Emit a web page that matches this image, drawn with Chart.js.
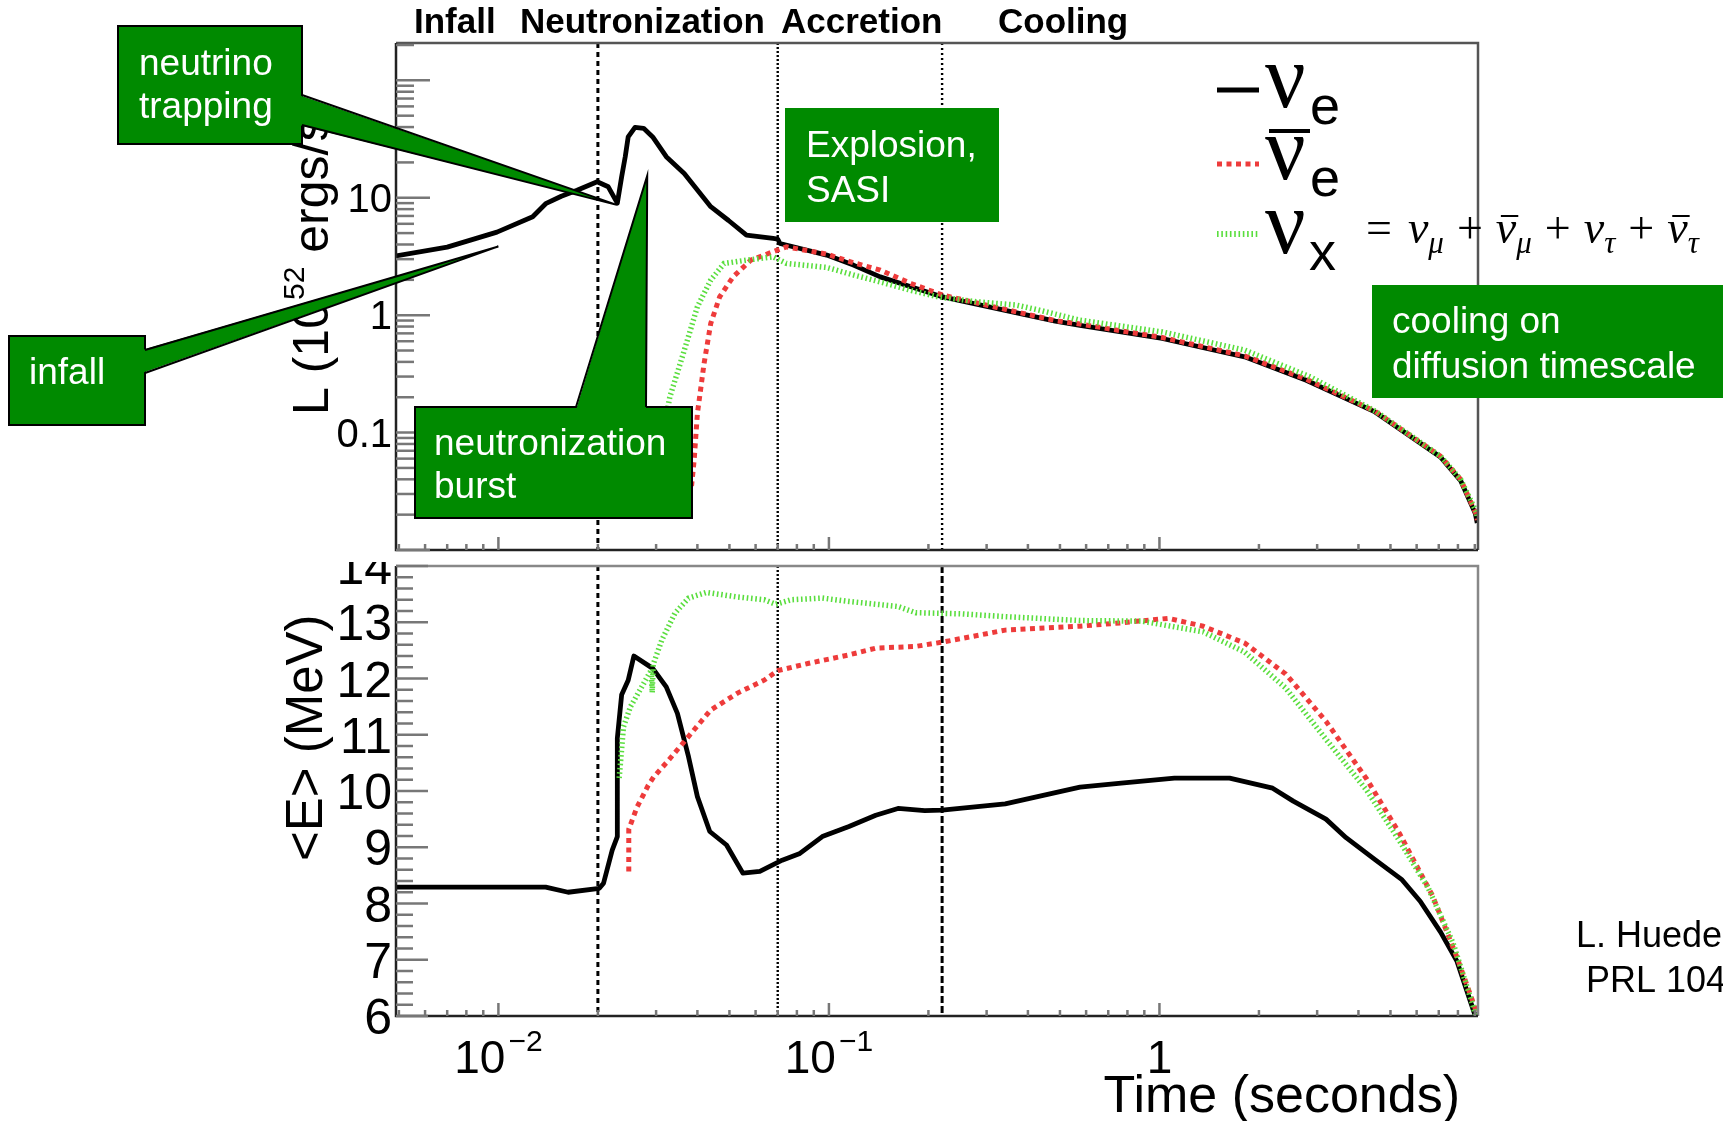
<!DOCTYPE html>
<html>
<head>
<meta charset="utf-8">
<script src="https://cdn.jsdelivr.net/npm/chart.js@4.4.0/dist/chart.umd.min.js"></script>
<style>
  html, body { margin: 0; padding: 0; background: #fff; }
  body { width: 1723px; height: 1121px; position: relative; overflow: hidden; }
  canvas { position: absolute; left: 0; }
  #lum { top: 0; }
  #ene { top: 562px; }
</style>
</head>
<body>
<canvas id="lum" width="1723" height="560"></canvas>
<canvas id="ene" width="1723" height="559"></canvas>
<script>
// time axis (seconds), phase boundaries
const tRange = [0.0049, 9.2];
const phaseBounds = [0.02, 0.07, 0.22];
const phaseNames = ['Infall', 'Neutronization', 'Accretion', 'Cooling'];

// luminosity panel, 10^52 erg/s
const lumRange = [0.01, 208];
const lumLabels = [0.1, 1, 10];
const tLumE = [0.0049, 0.0070, 0.0099, 0.0127, 0.0139, 0.0155, 0.0173, 0.0199, 0.0215, 0.0229, 0.0236, 0.0242, 0.0247, 0.0259, 0.0275, 0.0293, 0.0322, 0.0365, 0.0439, 0.0497, 0.0563, 0.0678, 0.0700, 0.0711, 0.0985, 0.1186, 0.143, 0.178, 0.221, 0.3415, 0.484, 0.575, 1.02, 1.81, 2.78, 4.49, 7.08, 8.15, 9.03, 9.15];
const lumE = [3.2, 3.8, 5.1, 6.9, 8.9, 10.3, 11.6, 13.7, 12.4, 9.0, 15.1, 22.4, 33, 39.8, 39, 33, 22.4, 16.1, 8.4, 6.4, 4.8, 4.5, 4.45, 4.08, 3.25, 2.67, 2.12, 1.74, 1.43, 1.10, 0.89, 0.82, 0.633, 0.442, 0.279, 0.15, 0.062, 0.039, 0.0204, 0.017];
const tLumA = [0.0384, 0.0391, 0.0400, 0.0419, 0.0439, 0.0467, 0.0513, 0.058, 0.0678, 0.0744, 0.0985, 0.1186, 0.143, 0.178, 0.221, 0.3415, 0.484, 0.575, 1.02, 1.81, 2.78, 4.49, 7.08, 8.15, 9.1, 9.15];
const lumA = [0.035, 0.058, 0.145, 0.387, 0.85, 1.43, 2.12, 2.94, 3.47, 3.82, 3.31, 2.8, 2.42, 1.85, 1.48, 1.12, 0.9, 0.84, 0.645, 0.45, 0.285, 0.152, 0.063, 0.04, 0.02, 0.018];
const tLumX = [0.0315, 0.033, 0.0365, 0.040, 0.0439, 0.0482, 0.0563, 0.0678, 0.0744, 0.0985, 0.1186, 0.143, 0.178, 0.215, 0.28, 0.368, 0.435, 0.575, 1.02, 1.81, 2.86, 4.49, 7.08, 8.15, 9.1, 9.15];
const lumX = [0.1, 0.2, 0.5, 1.18, 1.99, 2.76, 2.94, 3.14, 2.76, 2.55, 2.2, 1.92, 1.62, 1.43, 1.3, 1.22, 1.1, 0.906, 0.72, 0.504, 0.298, 0.153, 0.063, 0.04, 0.021, 0.019];

// mean energy panel, MeV
const eRange = [6, 14];
const eLabels = [6, 7, 8, 9, 10, 11, 12, 13, 14];
const tEneE = [0.0049, 0.0139, 0.01625, 0.0202, 0.0208, 0.0221, 0.0229, 0.0229, 0.0236, 0.0247, 0.0257, 0.0293, 0.0322, 0.0348, 0.0376, 0.040, 0.0436, 0.049, 0.0549, 0.0618, 0.0722, 0.0817, 0.0955, 0.115, 0.1386, 0.1618, 0.195, 0.22, 0.3415, 0.575, 0.766, 1.11, 1.63, 2.2, 2.54, 3.19, 3.67, 4.49, 5.4, 6.15, 7.09, 7.95, 8.91, 9.15];
const eneE = [8.29, 8.29, 8.2, 8.27, 8.36, 8.95, 9.19, 10.94, 11.71, 11.97, 12.4, 12.18, 11.85, 11.38, 10.61, 9.9, 9.28, 9.04, 8.54, 8.57, 8.77, 8.89, 9.19, 9.37, 9.57, 9.69, 9.65, 9.66, 9.77, 10.07, 10.14, 10.23, 10.23, 10.05, 9.82, 9.5, 9.17, 8.78, 8.43, 8.04, 7.49, 6.97, 6.1, 5.9];
const tEneA = [0.0248, 0.0248, 0.0263, 0.0284, 0.0295, 0.0322, 0.0364, 0.0439, 0.0529, 0.0637, 0.070, 0.0869, 0.115, 0.1386, 0.183, 0.222, 0.3415, 0.575, 0.766, 1.065, 1.355, 1.81, 2.41, 3.19, 4.24, 5.33, 6.7, 7.95, 9.03, 9.15];
const eneA = [8.57, 9.32, 9.72, 10.1, 10.25, 10.5, 10.87, 11.44, 11.74, 11.97, 12.14, 12.27, 12.42, 12.54, 12.57, 12.65, 12.86, 12.93, 12.99, 13.07, 12.93, 12.63, 12.08, 11.24, 10.21, 9.24, 8.14, 7.04, 6.13, 5.9];
const tEneX = [0.0232, 0.0239, 0.0251, 0.0275, 0.0290, 0.0292, 0.0294, 0.0312, 0.0342, 0.0376, 0.0426, 0.0529, 0.0637, 0.069, 0.0768, 0.0955, 0.115, 0.1618, 0.183, 0.25, 0.3415, 0.575, 0.883, 1.355, 1.81, 2.41, 3.19, 4.24, 5.33, 6.51, 7.73, 8.91, 9.15];
const eneX = [10.23, 11.14, 11.5, 11.91, 12.15, 11.75, 12.25, 12.68, 13.16, 13.43, 13.53, 13.45, 13.4, 13.32, 13.4, 13.43, 13.37, 13.28, 13.17, 13.15, 13.1, 13.03, 13.02, 12.83, 12.47, 11.83, 10.92, 10.01, 9.11, 8.27, 7.3, 6.16, 5.9];

const boxGreen = '#008a00';
const tickColor = '#777';
const sans = '"Liberation Sans", Arial, sans-serif';
const serif = '"Liberation Serif", "Times New Roman", serif';

const lineE = { borderColor: '#000', borderWidth: 4.8, borderDash: [], borderJoinStyle: 'round', pointRadius: 0, order: 3 };
const lineA = { borderColor: '#ee3b3b', borderWidth: 5, borderDash: [5, 4.5], pointRadius: 0, order: 2 };
const lineX = { borderColor: '#5ade3e', borderWidth: 5.5, borderDash: [1.6, 2.7], pointRadius: 0, order: 1 };

function pts(ts, vs) {
    return ts.map((t, i) => ({ x: t, y: vs[i] }));
}

function frame(chart, topColor) {
    const { ctx, chartArea: a } = chart;
    ctx.save();
    ctx.lineWidth = 2.5;
    ctx.strokeStyle = topColor;
    ctx.beginPath();
    ctx.moveTo(a.left, a.top);
    ctx.lineTo(a.right, a.top);
    ctx.lineTo(a.right, a.bottom);
    ctx.stroke();
    ctx.strokeStyle = '#222';
    ctx.beginPath();
    ctx.moveTo(a.left, a.top);
    ctx.lineTo(a.left, a.bottom);
    ctx.lineTo(a.right, a.bottom);
    ctx.stroke();
    ctx.restore();
}

function phaseLines(chart, dashes, widths) {
    const { ctx, chartArea: a, scales: { x } } = chart;
    ctx.save();
    ctx.strokeStyle = '#000';
    phaseBounds.forEach((t, i) => {
        const px = x.getPixelForValue(t);
        ctx.lineWidth = widths[i];
        ctx.setLineDash(dashes[i]);
        ctx.beginPath();
        ctx.moveTo(px, a.top);
        ctx.lineTo(px, a.bottom);
        ctx.stroke();
    });
    ctx.restore();
}

function timeTicks(chart) {
    const { ctx, chartArea: a, scales: { x } } = chart;
    ctx.save();
    ctx.strokeStyle = tickColor;
    ctx.lineWidth = 2.5;
    for (let k = -3; k <= 1; k++) {
        for (let m = 1; m <= 9; m++) {
            const v = m * Math.pow(10, k);
            if (v < x.min || v > x.max) continue;
            const px = x.getPixelForValue(v);
            ctx.beginPath();
            ctx.moveTo(px, a.bottom);
            ctx.lineTo(px, a.bottom - (m === 1 ? 13 : 6));
            ctx.stroke();
        }
    }
    ctx.restore();
}

function callout(chart, c) {
    const ctx = chart.ctx;
    const [bx, by, bw, bh] = c.box;
    ctx.save();
    ctx.fillStyle = boxGreen;
    ctx.fillRect(bx, by, bw, bh);
    if (c.border) {
        ctx.strokeStyle = '#000';
        ctx.lineWidth = 2;
        ctx.strokeRect(bx, by, bw, bh);
    }
    if (c.base) {
        const tip = [chart.scales.x.getPixelForValue(c.tip[0]), chart.scales.y.getPixelForValue(c.tip[1])];
        const [p, q] = c.base;
        const inset = c.baseSide === 'top' ? [0, 3] : [-3, 0];
        ctx.beginPath();
        ctx.moveTo(p[0] + inset[0], p[1] + inset[1]);
        ctx.lineTo(tip[0], tip[1]);
        ctx.lineTo(q[0] + inset[0], q[1] + inset[1]);
        ctx.closePath();
        ctx.fill();
        ctx.strokeStyle = '#000';
        ctx.lineWidth = 2;
        ctx.beginPath();
        ctx.moveTo(p[0], p[1]);
        ctx.lineTo(tip[0], tip[1]);
        ctx.lineTo(q[0], q[1]);
        ctx.stroke();
    }
    ctx.fillStyle = '#fff';
    ctx.font = '37px ' + sans;
    c.lines.forEach((s, i) => ctx.fillText(s, c.textX, c.textY[i]));
    ctx.restore();
}

const callouts = [
    { lines: ['neutrino', 'trapping'], box: [118, 26, 184, 118], border: true, textX: 139, textY: [75, 118],
      base: [[302, 95], [302, 125]], baseSide: 'right', tip: [0.0228, 8.7] },
    { lines: ['infall'], box: [9, 336, 136, 89], border: true, textX: 29, textY: [384],
      base: [[145, 350], [145, 373]], baseSide: 'right', tip: [0.0100, 3.85] },
    { lines: ['neutronization', 'burst'], box: [415, 407, 277, 111], border: true, textX: 434, textY: [455, 498],
      base: [[576, 407], [646, 407]], baseSide: 'top', tip: [0.0282, 15.4] },
    { lines: ['Explosion,', 'SASI'], box: [785, 108, 214, 114], border: false, textX: 806, textY: [157, 202] },
    { lines: ['cooling on', 'diffusion timescale'], box: [1372, 285, 380, 113], border: false, textX: 1392, textY: [333, 378] }
];

function legend(chart) {
    const ctx = chart.ctx;
    const ds = chart.data.datasets;
    const rowY = [90, 164, 234];
    ctx.save();
    ds.forEach((d, i) => {
        ctx.strokeStyle = d.borderColor;
        ctx.lineWidth = i === 2 ? 6 : d.borderWidth;
        ctx.setLineDash(d.borderDash);
        ctx.beginPath();
        ctx.moveTo(1217, rowY[i]);
        ctx.lineTo(1259, rowY[i]);
        ctx.stroke();
    });
    ctx.setLineDash([]);
    ctx.fillStyle = '#000';
    ctx.font = '90px ' + serif;
    [107, 179, 253].forEach(yb => ctx.fillText('ν', 1265, yb));
    ctx.font = '54px ' + sans;
    ctx.fillText('e', 1310, 124);
    ctx.fillText('e', 1310, 196);
    ctx.fillText('x', 1309, 270);
    ctx.strokeStyle = '#000';
    ctx.lineWidth = 4;
    ctx.beginPath();
    ctx.moveTo(1269, 131);
    ctx.lineTo(1310, 131);
    ctx.stroke();

    // = ν_μ + ν̄_μ + ν_τ + ν̄_τ
    const base = 243;
    let px = 1366;
    const up = '46px ' + serif, it = 'italic 46px ' + serif, sub = 'italic 31px ' + serif;
    const seq = [
        ['=', up, 0, 16], ['ν', it, 0, 0], ['μ', sub, 10, 13], ['+', up, 0, 13],
        ['ν', it, 0, 0, true], ['μ', sub, 10, 13], ['+', up, 0, 13],
        ['ν', it, 0, 0], ['τ', sub, 10, 13], ['+', up, 0, 13],
        ['ν', it, 0, 0, true], ['τ', sub, 10, 0]
    ];
    seq.forEach(([s, f, dy, gap, bar]) => {
        ctx.font = f;
        const w = ctx.measureText(s).width;
        ctx.fillText(s, px, base + dy);
        if (bar) {
            ctx.lineWidth = 2;
            ctx.beginPath();
            ctx.moveTo(px + 5, base - 27);
            ctx.lineTo(px + w + 2, base - 27);
            ctx.stroke();
        }
        px += w + gap;
    });
    ctx.restore();
}

const lumDecor = {
    id: 'lumDecor',
    beforeDatasetsDraw(chart) {
        phaseLines(chart, [[5, 4], [2, 2], [2, 3]], [3, 2.4, 2.4]);
    },
    afterDatasetsDraw(chart) {
        const { ctx, chartArea: a, scales: { y } } = chart;
        frame(chart, '#555');
        timeTicks(chart);

        ctx.save();
        ctx.strokeStyle = tickColor;
        ctx.lineWidth = 2.5;
        for (let k = -2; k <= 2; k++) {
            for (let m = 1; m <= 9; m++) {
                const v = m * Math.pow(10, k);
                if (v < y.min || v > y.max) continue;
                const py = y.getPixelForValue(v);
                ctx.beginPath();
                ctx.moveTo(a.left, py);
                ctx.lineTo(a.left + (m === 1 ? 34 : 18), py);
                ctx.stroke();
            }
        }
        ctx.fillStyle = '#000';
        ctx.font = '40px ' + sans;
        ctx.textAlign = 'right';
        lumLabels.forEach(v => ctx.fillText(String(v), a.left - 4, y.getPixelForValue(v) + 14));
        ctx.textAlign = 'left';

        // phase headers
        ctx.font = 'bold 35px ' + sans;
        [414, 520, 781, 998].forEach((hx, i) => ctx.fillText(phaseNames[i], hx, 33));

        // axis title
        ctx.translate(328, 415);
        ctx.rotate(-Math.PI / 2);
        ctx.font = '50px ' + sans;
        let p = 0;
        ctx.fillText('L (10', p, 0);
        p += ctx.measureText('L (10').width + 1;
        ctx.font = '30px ' + sans;
        ctx.fillText('52', p, -24);
        p += ctx.measureText('52').width;
        ctx.font = '50px ' + sans;
        ctx.fillText(' ergs/s)', p, 0);
        ctx.restore();

        legend(chart);
        callouts.forEach(c => callout(chart, c));
    }
};

const eneDecor = {
    id: 'eneDecor',
    beforeDatasetsDraw(chart) {
        phaseLines(chart, [[5, 4], [2, 2], [7, 3]], [3, 2.4, 3]);
    },
    afterDatasetsDraw(chart) {
        const { ctx, chartArea: a, scales: { x, y } } = chart;
        frame(chart, '#888');
        timeTicks(chart);

        ctx.save();
        ctx.strokeStyle = tickColor;
        ctx.lineWidth = 2.5;
        for (let i = 0; i <= 40; i++) {
            const v = eRange[0] + i * 0.2;
            const py = y.getPixelForValue(v);
            ctx.beginPath();
            ctx.moveTo(a.left, py);
            ctx.lineTo(a.left + (i % 5 === 0 ? 32 : 17), py);
            ctx.stroke();
        }
        ctx.fillStyle = '#000';
        ctx.font = '50px ' + sans;
        ctx.textAlign = 'right';
        eLabels.forEach(v => ctx.fillText(String(v), a.left - 4, y.getPixelForValue(v) + 18));

        // time labels
        ctx.textAlign = 'left';
        const labBase = a.bottom + 57;
        [[0.01, '10', '\u22122'], [0.1, '10', '\u22121'], [1, '1', '']].forEach(([v, m, e]) => {
            ctx.font = '46px ' + sans;
            const wm = ctx.measureText(m).width;
            ctx.font = '30px ' + sans;
            const we = e ? ctx.measureText(e).width + 3 : 0;
            const x0 = x.getPixelForValue(v) - (wm + we) / 2;
            ctx.font = '46px ' + sans;
            ctx.fillText(m, x0, labBase);
            if (e) {
                ctx.font = '30px ' + sans;
                ctx.fillText(e, x0 + wm + 3, labBase - 22);
            }
        });
        ctx.font = '52px ' + sans;
        ctx.textAlign = 'right';
        ctx.fillText('Time (seconds)', 1460, a.bottom + 96);

        ctx.textAlign = 'left';
        ctx.font = '36px ' + sans;
        ctx.fillText('L. Huedepohl et al.', 1576, 385);
        ctx.fillText('PRL 104, 251101 (2010)', 1586, 430);

        ctx.translate(322, 299);
        ctx.rotate(-Math.PI / 2);
        ctx.font = '51px ' + sans;
        ctx.fillText('<E> (MeV)', 0, 0);
        ctx.restore();
    }
};

const commonOptions = (yType, yRange, pad) => ({
    responsive: false,
    animation: false,
    events: [],
    layout: { padding: pad },
    scales: {
        x: { type: 'logarithmic', min: tRange[0], max: tRange[1], display: false },
        y: { type: yType, min: yRange[0], max: yRange[1], display: false }
    },
    plugins: { legend: { display: false }, tooltip: { enabled: false } }
});

const lumChart = new Chart(document.getElementById('lum'), {
    type: 'line',
    data: {
        datasets: [
            Object.assign({ label: 'νe', data: pts(tLumE, lumE) }, lineE),
            Object.assign({ label: 'anti-νe', data: pts(tLumA, lumA) }, lineA),
            Object.assign({ label: 'νx', data: pts(tLumX, lumX) }, lineX)
        ]
    },
    options: commonOptions('logarithmic', lumRange, { left: 396, top: 43, right: 245, bottom: 10 }),
    plugins: [lumDecor]
});

const eneChart = new Chart(document.getElementById('ene'), {
    type: 'line',
    data: {
        datasets: [
            Object.assign({ label: 'νe', data: pts(tEneE, eneE) }, lineE),
            Object.assign({ label: 'anti-νe', data: pts(tEneA, eneA) }, lineA),
            Object.assign({ label: 'νx', data: pts(tEneX, eneX) }, lineX)
        ]
    },
    options: commonOptions('linear', eRange, { left: 396, top: 4, right: 245, bottom: 105 }),
    plugins: [eneDecor]
});
</script>
</body>
</html>
